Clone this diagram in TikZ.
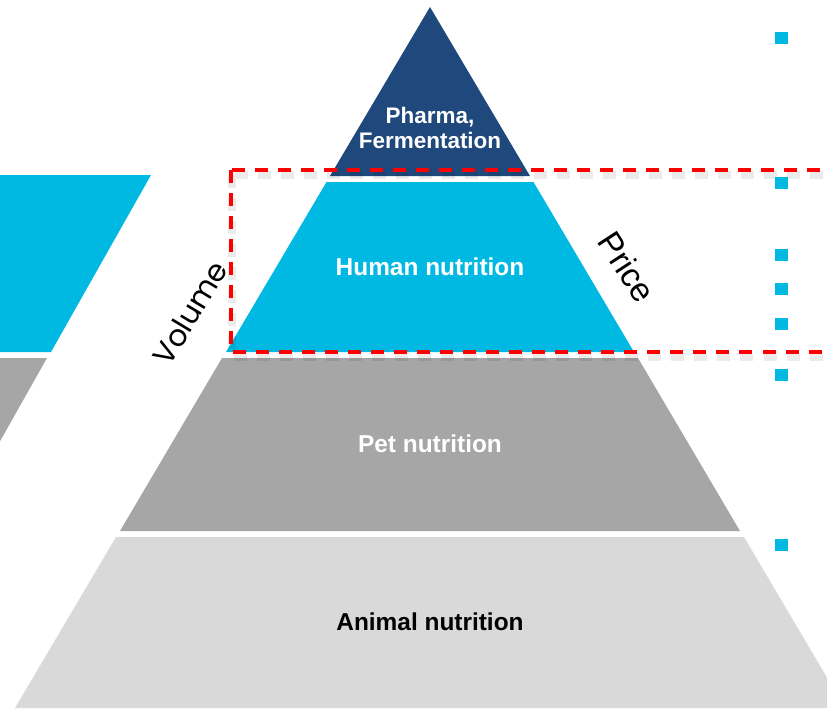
\documentclass[tikz,border=0pt]{standalone}
\usepackage{fontspec}
\setmainfont{Liberation Sans}
\newfontfamily\volumefont{Poppins}
\definecolor{pharmablue}{RGB}{31,73,125}
\definecolor{humancyan}{RGB}{0,185,227}
\definecolor{petgray}{RGB}{166,166,166}
\definecolor{animalgray}{RGB}{217,217,217}
\tikzset{
  layerlabel/.style={font=\bfseries\fontsize{13.9}{15}\selectfont, text=white, align=center, inner sep=0pt},
  axislabel/.style={font=\fontsize{19}{21}\selectfont, inner sep=0pt},
  focusbox/.style={red, line width=2pt, dash pattern=on 7.4pt off 5.7pt}
}
\begin{document}
\begin{tikzpicture}[x=0.02cm, y=-0.02cm]
  \useasboundingbox (0,0) rectangle (827,708);
  \clip (0,0) rectangle (827,708);
  % pyramid layers
  \fill[pharmablue] (430,7) -- (330,176) -- (530,176) -- cycle;
  \fill[humancyan] (326.5,182) -- (533.5,182) -- (634,352) -- (226,352) -- cycle;
  \fill[petgray] (222,358) -- (638,358) -- (740,531) -- (120,531) -- cycle;
  \fill[animalgray] (116,537) -- (744,537) -- (845,708) -- (15,708) -- cycle;
  % cut shapes on the left
  \fill[humancyan] (-10,175) -- (151,175) -- (51,352) -- (-10,352) -- cycle;
  \fill[petgray] (-10,358) -- (47,358) -- (-10,459) -- cycle;
  \node[layerlabel, font=\bfseries\fontsize{12.8}{14.5}\selectfont] (pharma) at (430,128) {Pharma,\\Fermentation};
  \node[layerlabel] (human) at (430,267) {Human nutrition};
  \node[layerlabel] (pet) at (430,444) {Pet nutrition};
  \node[layerlabel, text=black] (animal) at (430,622) {Animal nutrition};
  \node[axislabel, font=\volumefont\fontsize{17}{19}\selectfont, rotate=59] (volume) at (190,313) {Volume};
  \node[axislabel, rotate=-57] (price) at (627,267) {Price};
  % dashed frame with its soft shadow
  \draw[focusbox, black, opacity=0.08, line width=4pt] (232,175) rectangle (852,357);
  \draw[focusbox] (231,170) rectangle (850,352);
  \foreach \y in {38,183,255,289,324,375,545}
    \fill[humancyan] (775,\y-6) rectangle +(13,12);
\end{tikzpicture}
\end{document}
